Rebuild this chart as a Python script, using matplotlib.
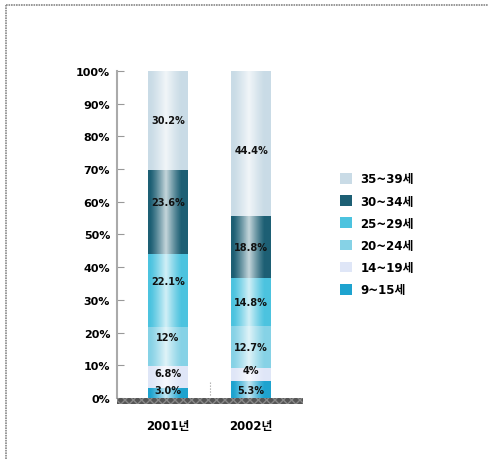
import numpy as np
import matplotlib
matplotlib.use("Agg")
from matplotlib import pyplot as plt
from matplotlib.patches import Patch, Rectangle

plt.rcParams['font.family'] = ['DejaVu Sans', 'Noto Sans CJK KR']

# === dados ===
anos = ["2001년", "2002년"]
faixas = ["9~15세", "14~19세", "20~24세", "25~29세", "30~34세", "35~39세"]
v_9_15 = [3.0, 5.3]
v_14_19 = [6.8, 4.0]
v_20_24 = [12.0, 12.7]
v_25_29 = [22.1, 14.8]
v_30_34 = [25.9, 18.8]
v_35_39 = [30.2, 44.4]
rotulos = [["3.0%", "6.8%", "12%", "22.1%", "23.6%", "30.2%"],
           ["5.3%", "4%", "12.7%", "14.8%", "18.8%", "44.4%"]]

series = [v_9_15, v_14_19, v_20_24, v_25_29, v_30_34, v_35_39]
cores = ["#1ea3cf", "#dfe6f7", "#86d2e6", "#4cc3df", "#1d5f74", "#c9dbe6"]

# === grafico ===
fig = plt.figure(figsize=(4.88, 4.6), dpi=100)
ax = fig.add_axes([0.240, 0.1326, 0.381, 0.711])

x = np.arange(len(anos))
largura = 0.48
base = np.zeros(len(anos))
for vals, cor in zip(series, cores):
    ax.bar(x, vals, largura, bottom=base, color=cor, edgecolor="none", zorder=2)
    base = base + np.array(vals)

# brilho de cilindro
t = np.linspace(0, 1, 60)
alfa = 0.75 * np.clip(1 - np.abs(t - 0.45) / 0.4, 0, 1) ** 1.2
grad = np.zeros((1, 60, 4))
grad[..., :3] = 1
grad[..., 3] = alfa
for xi, tot in zip(x, base):
    ax.imshow(grad, extent=[xi - largura / 2, xi + largura / 2, 0, tot],
              aspect="auto", zorder=3, interpolation="bilinear")

# rotulos
for i in range(len(anos)):
    acum = 0
    for j, vals in enumerate(series):
        meio = acum + vals[i] / 2
        if j == 0:
            meio = 2.6
        elif j == 1:
            meio = acum + vals[i] / 2 + 1.2
        elif i == 0 and j < 5:
            meio = meio + 3
        elif i == 1 and j == 5:
            meio = meio - 2
        acum += vals[i]
        ax.text(x[i], meio, rotulos[i][j], ha="center", va="center",
                fontsize=7, fontweight="bold", color="#111", zorder=5)

ax.set_xlim(-0.614, 1.627)
ax.set_ylim(0, 100)
ax.set_yticks(np.arange(0, 101, 10))
ax.set_yticklabels([f"{v}%" for v in range(0, 101, 10)], fontsize=8, fontweight="bold")
ax.tick_params(axis="y", direction="in", length=5, color="#999", pad=5)
ax.set_xticks(x)
ax.set_xticklabels(anos, fontsize=8.5, fontweight="bold")
ax.tick_params(axis="x", length=0, pad=15)
for s in ["top", "right", "bottom"]:
    ax.spines[s].set_visible(False)
ax.spines["left"].set_color("#aaa")
ax.spines["left"].set_linewidth(1.5)
ax.patch.set_alpha(0)

# base escura
ax.add_patch(Rectangle((-0.614, -1.8), 2.241, 1.8, transform=ax.transData,
                       facecolor="#555", edgecolor="#888", hatch="xxxx",
                       lw=0, clip_on=False, zorder=4))
ax.plot([0.5, 0.5], [1, 5], ls=":", color="#999", lw=0.8, zorder=1)

# legenda
alcas = [Patch(facecolor=c, edgecolor="none") for c in cores][::-1]
fig.legend(alcas, faixas[::-1], loc="upper left", bbox_to_anchor=(0.685, 0.636),
           frameon=False, handlelength=1.0, handleheight=1.0, handletextpad=0.7,
           labelspacing=0.78, borderpad=0, prop={"size": 8.5, "weight": "bold"})

# moldura
fig.add_artist(plt.Line2D([0.012, 0.012], [0, 0.987], color="#888", lw=1.2,
                          ls=(0, (1, 0.5)), transform=fig.transFigure))
fig.add_artist(plt.Line2D([0.012, 1], [0.987, 0.987], color="#888", lw=1.2,
                          ls=(0, (1, 0.5)), transform=fig.transFigure))

fig.savefig("out.png", dpi=100)
